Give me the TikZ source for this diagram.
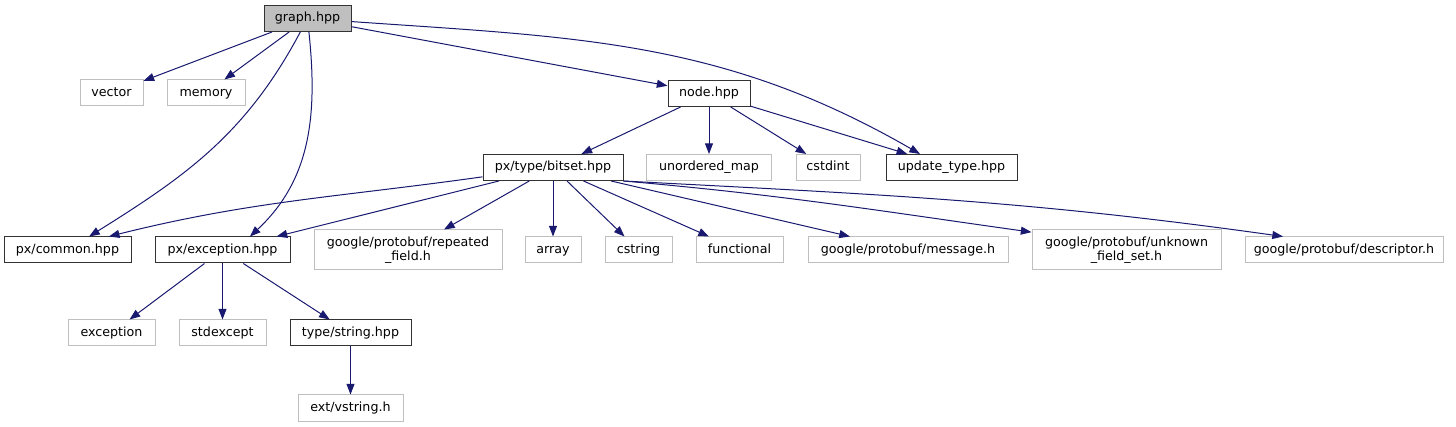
\documentclass[tikz,border=0pt]{standalone}
\usepackage{fontspec}
\setmainfont{DejaVu Sans}
\usetikzlibrary{arrows.meta}
\definecolor{edgeblue}{HTML}{191970}
\definecolor{sysgray}{HTML}{BFBFBF}
\begin{document}
\begin{tikzpicture}[x=0.75pt, y=-0.75pt, >={Triangle[length=8pt, width=6pt]},
    box/.style={draw=black!80, line width=0.75pt, inner sep=0pt, minimum height=19.5pt,
        font=\fontsize{9.5}{10.5}\selectfont, align=center},
    hdr/.style={box, text height=7pt, text depth=2pt},
    sys/.style={hdr, draw=sysgray},
    sys2/.style={box, draw=sysgray, minimum height=30pt},
    dep/.style={->, draw=edgeblue, line width=0.75pt}]
                \useasboundingbox (0,0) rectangle (1456,427);

                \node[hdr, fill=sysgray, minimum width=65.25pt] (graph) at (307.5,18.5) {graph.hpp};

                \node[sys, minimum width=47.25pt] (vec) at (111.5,93) {vector};
                \node[sys, minimum width=58.5pt] (mem) at (206,93) {memory};
                \node[hdr, minimum width=61.5pt] (nodeh) at (709,93.5) {node.hpp};

                \node[hdr, minimum width=105pt] (bitset) at (553,167.5) {px/type/bitset.hpp};
                \node[sys, minimum width=93.75pt] (umap) at (709,167.5) {unordered\_map};
                \node[sys, minimum width=48pt] (cstdint) at (828,167.5) {cstdint};
                \node[hdr, minimum width=98.25pt] (update) at (951.5,167.5) {update\_type.hpp};

                \node[hdr, minimum width=95.25pt] (common) at (67.5,250) {px/common.hpp};
                \node[hdr, minimum width=101.25pt] (pxexc) at (222.5,250) {px/exception.hpp};
                \node[sys2, minimum width=141pt] (repeated) at (408,250) {google/protobuf/repeated\\\_field.h};
                \node[sys, minimum width=42pt] (array) at (553,250) {array};
                \node[sys, minimum width=50.25pt] (cstring) at (638.5,250) {cstring};
                \node[sys, minimum width=65.25pt] (functional) at (739.5,250) {functional};
                \node[sys, minimum width=150pt] (message) at (908,250) {google/protobuf/message.h};
                \node[sys2, minimum width=141.75pt] (unknown) at (1126.5,250) {google/protobuf/unknown\\\_field\_set.h};
                \node[sys, minimum width=148.5pt] (descriptor) at (1344,250) {google/protobuf/descriptor.h};

                \node[sys, minimum width=65.25pt] (exc) at (111.5,333) {exception};
                \node[sys, minimum width=65.25pt] (stdexc) at (222.5,333) {stdexcept};
                \node[hdr, minimum width=90.75pt] (string) at (350.5,333) {type/string.hpp};
                \node[sys, minimum width=78.75pt] (vstring) at (350.5,408) {ext/vstring.h};

                % graph.hpp
                \draw[dep] (graph) -- (vec);
                \draw[dep] (graph) -- (mem);
                \draw[dep] (graph) to[out=242, in=32] (common);
                \draw[dep] (graph) to[out=276, in=43] ([xshift=20.6pt]pxexc.north);
                \draw[dep] (graph) -- (nodeh);
                \draw[dep] (graph) to[out=-4, in=150] ([xshift=-23.6pt]update.north);

                % node.hpp
                \draw[dep] (nodeh) -- (bitset);
                \draw[dep] (nodeh) -- (umap);
                \draw[dep] (nodeh) -- (cstdint);
                \draw[dep] (nodeh) -- (update);

                % px/type/bitset.hpp
                \draw[dep] ([yshift=-7pt]bitset.west) to[out=188, in=14] ([xshift=31pt]common.north);
                \draw[dep] (bitset) -- (pxexc);
                \draw[dep] (bitset) -- (repeated);
                \draw[dep] (bitset) -- (array);
                \draw[dep] (bitset) -- (cstring);
                \draw[dep] (bitset) -- (functional);
                \draw[dep] (bitset) -- (message);
                \draw[dep] (bitset.south east) to[out=-5, in=172] ([yshift=-2pt]unknown.north west);
                \draw[dep] (bitset.south east) to[out=-3, in=172] ([xshift=-45.75pt]descriptor.north);

                % px/exception.hpp
                \draw[dep] (pxexc) -- (exc);
                \draw[dep] (pxexc) -- (stdexc);
                \draw[dep] (pxexc) -- (string);
                \draw[dep] (string) -- (vstring);
\end{tikzpicture}
\end{document}
